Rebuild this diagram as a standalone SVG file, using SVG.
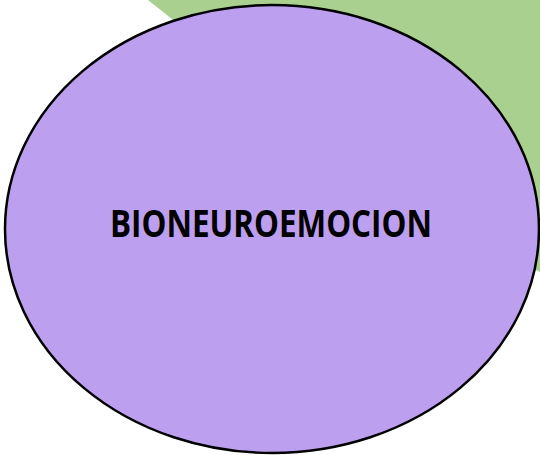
<svg xmlns="http://www.w3.org/2000/svg" width="540" height="455" viewBox="0 0 540 455">
<style>
.bg{fill:#a9d08e}
.node{fill:#bc9fee;stroke:#000;stroke-width:2.5}
.lbl{font-family:"Open Sans","Liberation Sans",sans-serif;font-weight:bold;font-size:38px;fill:#000}
</style>
<rect width="540" height="455" fill="#ffffff"/>
<g id="green-shape">
<polygon class="bg" points="148,0 540,0 540,272 400,200"/>
</g>
<g id="connectors"></g>
<g id="bioneuroemocion">
<ellipse class="node" cx="272" cy="229" rx="267" ry="224"/>
<text class="lbl" x="271" y="237" text-anchor="middle" textLength="322" lengthAdjust="spacingAndGlyphs">BIONEUROEMOCION</text>
</g>
</svg>
